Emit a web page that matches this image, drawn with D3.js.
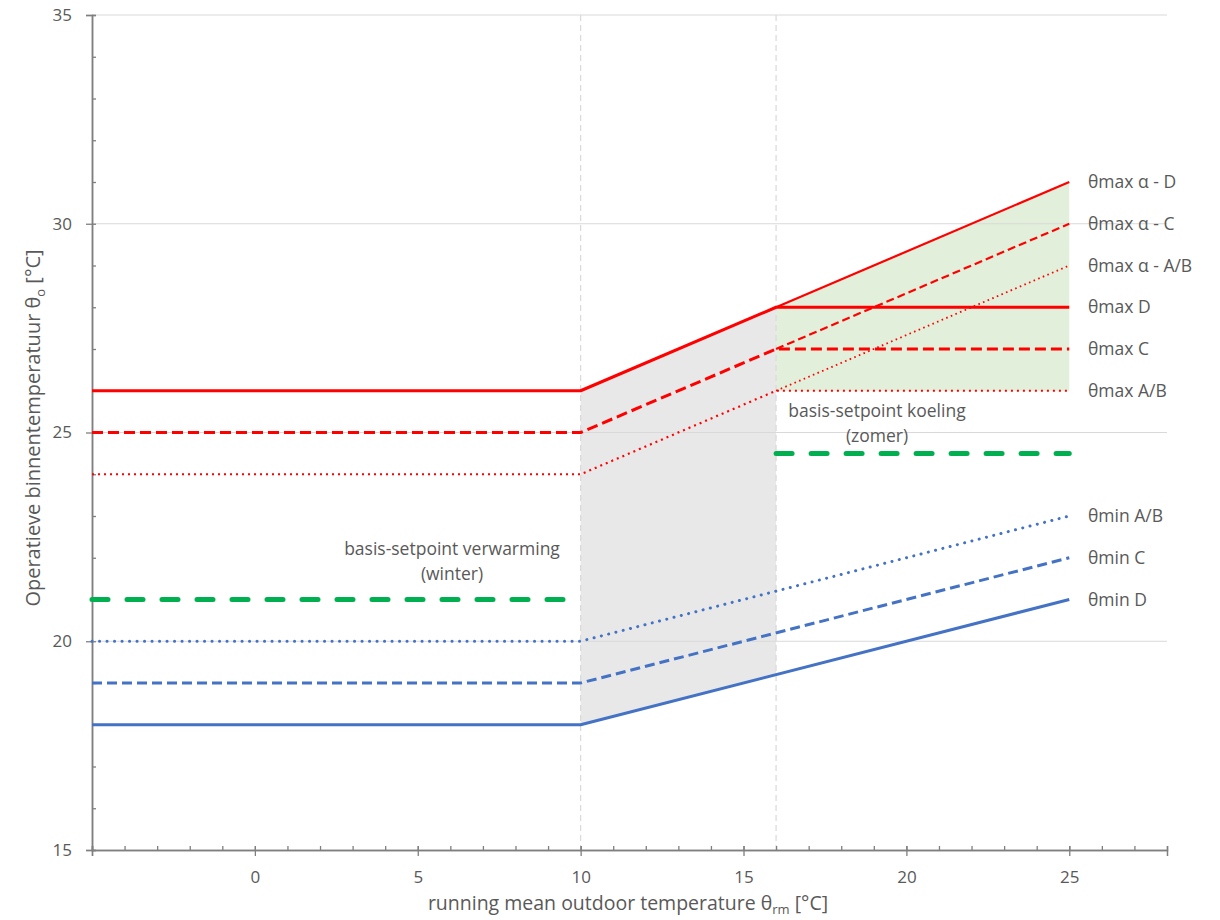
<!DOCTYPE html>
<html><head><meta charset="utf-8">
<script src="https://cdn.jsdelivr.net/npm/d3@7"></script>
<style>body{margin:0;background:#fff}svg text{font-family:"Open Sans","Noto Sans",sans-serif;fill:#595959}</style>
</head><body><svg id="c" width="1220" height="920"></svg>
<script>
// ---- data ----
const xTicks = [0, 5, 10, 15, 20, 25];
const yTicks = [15, 20, 25, 30, 35];
const zoneLines = [10, 16];
// θmax lines (x, y)
const maxD   = [[-5, 26], [10, 26], [16, 28], [25, 28]];
const maxC   = [[-5, 25], [10, 25], [16, 27], [25, 27]];
const maxAB  = [[-5, 24], [10, 24], [16, 26], [25, 26]];
const alphaD  = [[16, 28], [25, 31]];
const alphaC  = [[16, 27], [25, 30]];
const alphaAB = [[16, 26], [25, 29]];
// θmin lines
const minAB = [[-5, 20], [10, 20], [25, 23]];
const minC  = [[-5, 19], [10, 19], [25, 22]];
const minD  = [[-5, 18], [10, 18], [25, 21]];
// base setpoints
const setWinter = [[-5, 21], [10, 21]];
const setSummer = [[16, 24.5], [25, 24.5]];
// shaded areas
const greyBand  = [[10, 18, 26], [16, 19.2, 28]];
const greenBand = [[16, 26, 28], [25, 26, 31]];
const rightLabels = [
  ["θmax α - D", 31], ["θmax α - C", 30], ["θmax α - A/B", 29],
  ["θmax D", 28], ["θmax C", 27], ["θmax A/B", 26],
  ["θmin A/B", 23], ["θmin C", 22], ["θmin D", 21]
];

// ---- scales ----
const svg = d3.select("#c");
const x = d3.scaleLinear().domain([-5, 28]).range([92, 1167]);
const y = d3.scaleLinear().domain([15, 35]).range([850, 15]);
const RED = "#ff0000", BLUE = "#4472c4", GREEN = "#00b050";

// areas
const area = d3.area().x(d => x(d[0])).y0(d => y(d[1])).y1(d => y(d[2]));
svg.append("path").attr("d", area(greyBand)).attr("fill", "#e8e8e8");
svg.append("path").attr("d", area(greenBand)).attr("fill", "#e2efda");

// gridlines
svg.append("g").selectAll("line").data(yTicks.filter(v => v > 15)).join("line")
  .attr("x1", x(-5)).attr("x2", x(28)).attr("y1", d => y(d)).attr("y2", d => y(d))
  .attr("stroke", "#d9d9d9").attr("stroke-width", 1.2);
svg.append("g").selectAll("line").data(zoneLines).join("line")
  .attr("x1", d => x(d)).attr("x2", d => x(d)).attr("y1", y(35)).attr("y2", y(15))
  .attr("stroke", "#d9d9d9").attr("stroke-width", 1.2).attr("stroke-dasharray", "6,4");

// axes
const axC = "#7f7f7f";
const gx = svg.append("g").attr("transform", `translate(0,${y(15)})`);
gx.call(d3.axisBottom(x).tickValues(d3.range(-5, 29, 5)).tickSize(6).tickFormat(d => d === -5 ? "" : d));
gx.append("g").call(d3.axisTop(x).tickValues(d3.range(-5, 29, 1)).tickSize(4).tickFormat(""));
gx.selectAll("path.domain").attr("stroke", axC).attr("stroke-width", 1.5);
gx.selectAll("line").attr("stroke", axC).attr("stroke-width", 1.3);
gx.selectAll("text").attr("font-size", 17).attr("y", 21).attr("dy", "0.71em").style("fill", "#595959");
gx.selectAll(".tick line").filter(function(){return this.getAttribute("y2") > 0;}).attr("y1", -4);

const gy = svg.append("g").attr("transform", `translate(${x(-5)},0)`);
gy.call(d3.axisLeft(y).tickValues(yTicks).tickSize(6).tickPadding(14));
gy.append("g").call(d3.axisRight(y).tickValues(d3.range(15, 36, 1)).tickSize(4).tickFormat(""));
gy.selectAll("path.domain").attr("stroke", axC).attr("stroke-width", 1.5);
gy.selectAll("line").attr("stroke", axC).attr("stroke-width", 1.3);
gy.selectAll("text").attr("font-size", 17).style("fill", "#595959");

// lines
const line = d3.line().x(d => x(d[0])).y(d => y(d[1]));
function draw(data, color, w, dash, cap) {
  svg.append("path").attr("d", line(data)).attr("fill", "none")
    .attr("stroke", color).attr("stroke-width", w)
    .attr("stroke-dasharray", dash || null).attr("stroke-linecap", cap || "butt")
    .attr("stroke-linejoin", "round");
}
draw(setWinter, GREEN, 5, "16,19", "round");
draw(setSummer, GREEN, 5, "16,19", "round");
draw(alphaD, RED, 2.2);
draw(alphaC, RED, 2.2, "8,4");
draw(alphaAB, RED, 1.8, "1.6,3.4");
draw(maxD, RED, 3);
draw(maxC, RED, 3, "11,5");
draw(maxAB, RED, 2.2, "2,4");
draw(minAB, BLUE, 3, "0.1,7.4", "round");
draw(minC, BLUE, 3, "10,5");
draw(minD, BLUE, 3);

// right labels
svg.append("g").selectAll("text").data(rightLabels).join("text")
  .attr("x", 1088).attr("y", d => y(d[1])).attr("dy", "0.35em")
  .attr("font-size", 17.5).text(d => d[0]);

// annotations
const ann = [["basis-setpoint verwarming", 452, 555], ["(winter)", 452, 580],
             ["basis-setpoint koeling", 877, 417], ["(zomer)", 877, 442]];
svg.append("g").selectAll("text").data(ann).join("text")
  .attr("x", d => d[1]).attr("y", d => d[2]).attr("text-anchor", "middle")
  .attr("font-size", 17.5).text(d => d[0]);

// axis titles
const xt = svg.append("text").attr("x", 628).attr("y", 910).attr("text-anchor", "middle").attr("font-size", 19.5);
xt.append("tspan").text("running mean outdoor temperature θ");
xt.append("tspan").attr("font-size", 13).attr("dy", 4).text("rm");
xt.append("tspan").attr("dy", -4).text(" [°C]");

const yt = svg.append("text").attr("transform", "translate(40,428) rotate(-90)").attr("text-anchor", "middle").attr("font-size", 20);
yt.append("tspan").text("Operatieve binnentemperatuur θ");
yt.append("tspan").attr("font-size", 13).attr("dy", 5).text("o");
yt.append("tspan").attr("dy", -5).text(" [°C]");
</script></body></html>
